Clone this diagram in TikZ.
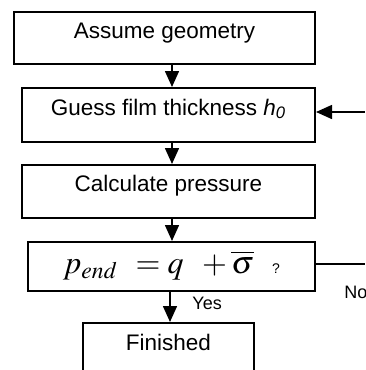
\documentclass[tikz,border=0pt]{standalone}
\usepackage{mathptmx}
\usepackage[no-math]{fontspec}
\setmainfont{Liberation Sans}
\usetikzlibrary{arrows.meta}
\tikzset{
  flowbox/.style={draw,line width=1pt,inner sep=0pt,font=\fontsize{11.25}{13}\selectfont},
  flowarrow/.style={line width=.75pt,-{Triangle[length=8pt,width=7pt]}},
  flowline/.style={line width=.75pt},
  answer/.style={inner sep=0pt,font=\fontsize{9}{11}\selectfont}
}
\begin{document}
\begin{tikzpicture}[x=.5pt,y=-.5pt]
\clip (0,0) rectangle (365,370);
\node[flowbox,minimum width=150.5pt,text height=13pt,text depth=13pt] (geom) at (164.5,38) {Assume geometry};
\node[flowbox,minimum width=146.5pt,text height=13.5pt,text depth=13.5pt] (guess) at (168.5,115) {Guess film thickness \textit{h\textsubscript{0}}};
\node[flowbox,minimum width=146.5pt,text height=13.25pt,text depth=13.25pt] (calc) at (168.5,191.5) {Calculate pressure};
\node[flowbox,minimum width=143.5pt,text height=15.5pt,text depth=9pt,anchor=base] (check) at (171.5,273)
  {\fontsize{16}{18}\selectfont$p_{end}\;\,=q\hspace{7pt}+\overline{\sigma}$\hspace{9pt}{\fontsize{7}{8}\selectfont ?}};
\node[flowbox,minimum width=85.5pt,text height=13.5pt,text depth=13.5pt] (done) at (168.5,350) {Finished};
\coordinate (axis) at (172,0);
\coordinate (back) at (365,112);
\coordinate (noend) at (365,264);
\draw[flowarrow] (geom.south -| axis) -- (guess.north -| axis);
\draw[flowarrow] (guess.south -| axis) -- (calc.north -| axis);
\draw[flowarrow] (calc.south -| axis) -- (check.north -| axis);
\draw[flowarrow] (check.south -| done.north) ++(1.5,0) coordinate (yesstart) -- (done.north -| yesstart);
\draw[flowarrow] (back) -- (guess.east |- back);
\draw[flowline] (check.east |- noend) -- (noend);
\node[answer,anchor=west] (yes) at (192,303.5) {Yes};
\node[answer,anchor=west] (no) at (344,292.5) {No};
\end{tikzpicture}
\end{document}
